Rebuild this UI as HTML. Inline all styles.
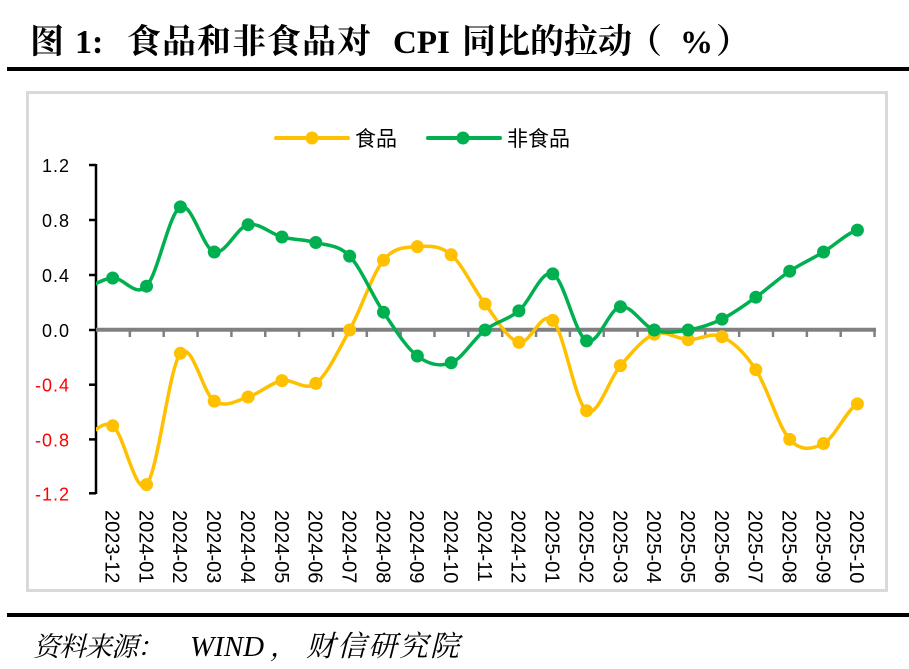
<!DOCTYPE html>
<html><head><meta charset="utf-8"><style>
html,body{margin:0;padding:0;background:#fff;}
svg{display:block;}
</style></head><body>
<svg width="909" height="669" viewBox="0 0 909 669" xmlns="http://www.w3.org/2000/svg">
<rect x="0" y="0" width="909" height="669" fill="#fff"/>
<!-- Title -->
<g font-family="'Liberation Serif','Noto Serif CJK SC',serif" font-weight="bold" font-size="34" fill="#000">
<text x="30" y="53">图</text>
<text x="75" y="53">1:</text>
<text x="127 162 197 232 267 302 337" y="53">食品和非食品对</text>
<text x="393" y="53" font-size="33">CPI</text>
<text x="462 496 530 564 598" y="53">同比的拉动</text>
<text x="628" y="53">（</text>
<text x="680" y="53" font-size="33">%</text>
<text x="716" y="53">）</text>
</g>
<rect x="7" y="67" width="902" height="4" fill="#000"/>
<!-- chart border -->
<rect x="27.5" y="92.5" width="859" height="498" fill="#fff" stroke="#d9d9d9" stroke-width="3"/>
<!-- legend -->
<line x1="276" y1="138" x2="348" y2="138" stroke="#FFC000" stroke-width="4" stroke-linecap="round"/>
<circle cx="312" cy="138" r="6.5" fill="#FFC000"/>
<text x="355" y="146" font-family="'Liberation Sans','Noto Sans CJK SC',sans-serif" font-size="21" fill="#000">食品</text>
<line x1="428" y1="138" x2="500" y2="138" stroke="#00B050" stroke-width="4" stroke-linecap="round"/>
<circle cx="463" cy="138" r="6.5" fill="#00B050"/>
<text x="507" y="146" font-family="'Liberation Sans','Noto Sans CJK SC',sans-serif" font-size="21" fill="#000">非食品</text>
<!-- y axis -->
<line x1="96" y1="164" x2="96" y2="494" stroke="#000" stroke-width="2.5"/>
<g stroke="#000" stroke-width="2.5">
<line x1="89" y1="165" x2="96" y2="165"/>
<line x1="89" y1="220" x2="96" y2="220"/>
<line x1="89" y1="275" x2="96" y2="275"/>
<line x1="89" y1="330" x2="96" y2="330"/>
<line x1="89" y1="384.7" x2="96" y2="384.7"/>
<line x1="89" y1="439.4" x2="96" y2="439.4"/>
<line x1="89" y1="493.3" x2="96" y2="493.3"/>
</g>
<g font-family="'Liberation Sans',sans-serif" font-size="18" text-anchor="end" letter-spacing="1">
<text x="70" y="172" fill="#000">1.2</text>
<text x="70" y="227" fill="#000">0.8</text>
<text x="70" y="282" fill="#000">0.4</text>
<text x="70" y="337" fill="#000">0.0</text>
<text x="70" y="391.7" fill="#FF0000">-0.4</text>
<text x="70" y="446.4" fill="#FF0000">-0.8</text>
<text x="70" y="500.3" fill="#FF0000">-1.2</text>
</g>
<!-- zero axis -->
<line x1="96" y1="329.7" x2="876" y2="329.7" stroke="#808080" stroke-width="4"/>
<g stroke="#808080" stroke-width="2.5">
<line x1="129.85" y1="330" x2="129.85" y2="337"/>
<line x1="163.7" y1="330" x2="163.7" y2="337"/>
<line x1="197.55" y1="330" x2="197.55" y2="337"/>
<line x1="231.4" y1="330" x2="231.4" y2="337"/>
<line x1="265.25" y1="330" x2="265.25" y2="337"/>
<line x1="299.1" y1="330" x2="299.1" y2="337"/>
<line x1="332.95" y1="330" x2="332.95" y2="337"/>
<line x1="366.8" y1="330" x2="366.8" y2="337"/>
<line x1="400.65" y1="330" x2="400.65" y2="337"/>
<line x1="434.5" y1="330" x2="434.5" y2="337"/>
<line x1="468.35" y1="330" x2="468.35" y2="337"/>
<line x1="502.2" y1="330" x2="502.2" y2="337"/>
<line x1="536.05" y1="330" x2="536.05" y2="337"/>
<line x1="569.9" y1="330" x2="569.9" y2="337"/>
<line x1="603.75" y1="330" x2="603.75" y2="337"/>
<line x1="637.6" y1="330" x2="637.6" y2="337"/>
<line x1="671.45" y1="330" x2="671.45" y2="337"/>
<line x1="705.3" y1="330" x2="705.3" y2="337"/>
<line x1="739.15" y1="330" x2="739.15" y2="337"/>
<line x1="773" y1="330" x2="773" y2="337"/>
<line x1="806.85" y1="330" x2="806.85" y2="337"/>
<line x1="840.7" y1="330" x2="840.7" y2="337"/>
<line x1="874.55" y1="330" x2="874.55" y2="337"/>
</g>
<defs><clipPath id="pc"><rect x="96" y="150" width="790" height="360"/></clipPath></defs>
<g clip-path="url(#pc)">
<path fill="none" stroke="#FFC000" stroke-width="3.5" stroke-linejoin="round" d="M78.85,440.8 C90.13,438.3 101.42,418.5 112.7,425.8 C123.98,433.1 135.27,496.68 146.55,484.6 C157.83,472.52 169.12,367.22 180.4,353.3 C191.68,339.38 202.97,393.82 214.25,401.1 C225.53,408.38 236.82,400.42 248.1,397.0 C259.38,393.58 270.67,382.87 281.95,380.6 C293.23,378.33 304.52,391.83 315.8,383.4 C327.08,374.97 338.37,350.53 349.65,330.0 C360.93,309.47 372.22,274.1 383.5,260.2 C394.78,246.3 406.07,247.5 417.35,246.6 C428.63,245.7 439.92,245.23 451.2,254.8 C462.48,264.37 473.77,289.42 485.05,304.0 C496.33,318.58 507.62,339.57 518.9,342.3 C530.18,345.03 541.47,309.0 552.75,320.4 C564.03,331.8 575.32,403.17 586.6,410.7 C597.88,418.23 609.17,378.37 620.45,365.6 C631.73,352.83 643.02,338.43 654.3,334.1 C665.58,329.77 676.87,339.15 688.15,339.6 C699.43,340.05 710.72,331.78 722.0,336.8 C733.28,341.82 744.57,352.6 755.85,369.7 C767.13,386.8 778.42,427.1 789.7,439.4 C800.98,451.7 812.27,449.42 823.55,443.5 C834.83,437.58 846.12,410.5 857.4,403.9"/>
<g fill="#FFC000">
<circle cx="112.7" cy="425.8" r="6.5"/><circle cx="146.55" cy="484.6" r="6.5"/><circle cx="180.4" cy="353.3" r="6.5"/><circle cx="214.25" cy="401.1" r="6.5"/><circle cx="248.1" cy="397.0" r="6.5"/><circle cx="281.95" cy="380.6" r="6.5"/><circle cx="315.8" cy="383.4" r="6.5"/><circle cx="349.65" cy="330.0" r="6.5"/><circle cx="383.5" cy="260.2" r="6.5"/><circle cx="417.35" cy="246.6" r="6.5"/><circle cx="451.2" cy="254.8" r="6.5"/><circle cx="485.05" cy="304.0" r="6.5"/><circle cx="518.9" cy="342.3" r="6.5"/><circle cx="552.75" cy="320.4" r="6.5"/><circle cx="586.6" cy="410.7" r="6.5"/><circle cx="620.45" cy="365.6" r="6.5"/><circle cx="654.3" cy="334.1" r="6.5"/><circle cx="688.15" cy="339.6" r="6.5"/><circle cx="722.0" cy="336.8" r="6.5"/><circle cx="755.85" cy="369.7" r="6.5"/><circle cx="789.7" cy="439.4" r="6.5"/><circle cx="823.55" cy="443.5" r="6.5"/><circle cx="857.4" cy="403.9" r="6.5"/>
</g>
<path fill="none" stroke="#00B050" stroke-width="3.5" stroke-linejoin="round" d="M78.85,290.3 C90.13,288.25 101.42,278.68 112.7,278.0 C123.98,277.32 135.27,298.05 146.55,286.2 C157.83,274.35 169.12,212.6 180.4,206.9 C191.68,201.2 202.97,249.03 214.25,252.0 C225.53,254.97 236.82,227.2 248.1,224.7 C259.38,222.2 270.67,234.03 281.95,237.0 C293.23,239.97 304.52,239.32 315.8,242.5 C327.08,245.68 338.37,244.48 349.65,256.1 C360.93,267.72 372.22,295.55 383.5,312.2 C394.78,328.85 406.07,347.57 417.35,356.0 C428.63,364.43 439.92,367.13 451.2,362.8 C462.48,358.47 473.77,338.65 485.05,330.0 C496.33,321.35 507.62,320.25 518.9,310.9 C530.18,301.55 541.47,268.9 552.75,273.9 C564.03,278.9 575.32,335.43 586.6,340.9 C597.88,346.37 609.17,308.52 620.45,306.7 C631.73,304.88 643.02,326.12 654.3,330.0 C665.58,333.88 676.87,331.82 688.15,330.0 C699.43,328.18 710.72,324.57 722.0,319.1 C733.28,313.63 744.57,305.18 755.85,297.2 C767.13,289.22 778.42,278.73 789.7,271.2 C800.98,263.67 812.27,258.85 823.55,252.0 C834.83,245.15 846.12,233.75 857.4,230.1"/>
<g fill="#00B050">
<circle cx="112.7" cy="278.0" r="6.5"/><circle cx="146.55" cy="286.2" r="6.5"/><circle cx="180.4" cy="206.9" r="6.5"/><circle cx="214.25" cy="252.0" r="6.5"/><circle cx="248.1" cy="224.7" r="6.5"/><circle cx="281.95" cy="237.0" r="6.5"/><circle cx="315.8" cy="242.5" r="6.5"/><circle cx="349.65" cy="256.1" r="6.5"/><circle cx="383.5" cy="312.2" r="6.5"/><circle cx="417.35" cy="356.0" r="6.5"/><circle cx="451.2" cy="362.8" r="6.5"/><circle cx="485.05" cy="330.0" r="6.5"/><circle cx="518.9" cy="310.9" r="6.5"/><circle cx="552.75" cy="273.9" r="6.5"/><circle cx="586.6" cy="340.9" r="6.5"/><circle cx="620.45" cy="306.7" r="6.5"/><circle cx="654.3" cy="330.0" r="6.5"/><circle cx="688.15" cy="330.0" r="6.5"/><circle cx="722.0" cy="319.1" r="6.5"/><circle cx="755.85" cy="297.2" r="6.5"/><circle cx="789.7" cy="271.2" r="6.5"/><circle cx="823.55" cy="252.0" r="6.5"/><circle cx="857.4" cy="230.1" r="6.5"/>
</g>
</g>
<!-- x labels -->
<g font-family="'Liberation Sans',sans-serif" font-size="20" fill="#000">
<text transform="translate(105.5,510) rotate(90)">2023-12</text>
<text transform="translate(139.35,510) rotate(90)">2024-01</text>
<text transform="translate(173.2,510) rotate(90)">2024-02</text>
<text transform="translate(207.05,510) rotate(90)">2024-03</text>
<text transform="translate(240.9,510) rotate(90)">2024-04</text>
<text transform="translate(274.75,510) rotate(90)">2024-05</text>
<text transform="translate(308.6,510) rotate(90)">2024-06</text>
<text transform="translate(342.45,510) rotate(90)">2024-07</text>
<text transform="translate(376.3,510) rotate(90)">2024-08</text>
<text transform="translate(410.15,510) rotate(90)">2024-09</text>
<text transform="translate(444,510) rotate(90)">2024-10</text>
<text transform="translate(477.85,510) rotate(90)">2024-11</text>
<text transform="translate(511.7,510) rotate(90)">2024-12</text>
<text transform="translate(545.55,510) rotate(90)">2025-01</text>
<text transform="translate(579.4,510) rotate(90)">2025-02</text>
<text transform="translate(613.25,510) rotate(90)">2025-03</text>
<text transform="translate(647.1,510) rotate(90)">2025-04</text>
<text transform="translate(680.95,510) rotate(90)">2025-05</text>
<text transform="translate(714.8,510) rotate(90)">2025-06</text>
<text transform="translate(748.65,510) rotate(90)">2025-07</text>
<text transform="translate(782.5,510) rotate(90)">2025-08</text>
<text transform="translate(816.35,510) rotate(90)">2025-09</text>
<text transform="translate(850.2,510) rotate(90)">2025-10</text>
</g>
<!-- bottom rule -->
<rect x="7" y="613" width="902" height="4" fill="#000"/>
<!-- source -->
<g font-family="'Liberation Serif','Noto Serif CJK SC',serif" font-style="italic" fill="#000">
<text x="33 59 85 111 137" y="656" font-size="27">资料来源：</text>
<text x="190" y="656" font-size="29">WIND</text>
<text x="270" y="656" font-size="27">，</text>
<text x="306 337 368 399 430" y="656" font-size="29">财信研究院</text>
</g>
</svg>
</body></html>
